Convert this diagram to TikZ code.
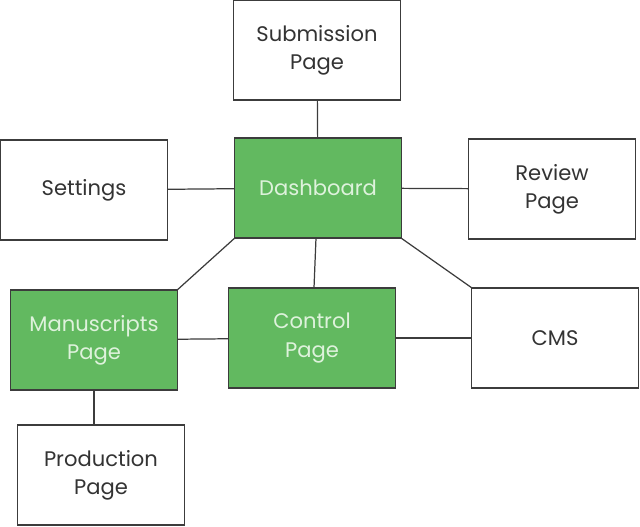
\documentclass[tikz,border=0pt]{standalone}
\usepackage{fontspec}
\setmainfont{Poppins}
\usepackage{xcolor}
\usetikzlibrary{positioning,shapes}
\definecolor{boxgreen}{RGB}{98,185,96}
\definecolor{lightgreen}{RGB}{222,242,220}
\definecolor{edgegray}{RGB}{60,60,60}

\begin{document}
\begin{tikzpicture}[x = 0.02cm, y = -0.02cm,
    page/.style = {draw = edgegray, line width = 0.7pt, minimum width = 3.33cm, minimum height = 2cm, align = center, font = \fontsize{12}{16}\selectfont, text = black!80},
    hub/.style = {page, fill = boxgreen, text = lightgreen},
    link/.style = {draw = edgegray, line width = 0.7pt}]
  \useasboundingbox (0,0) rectangle (640,527);
    \node[page] (sub) at (317,50) {Submission\\Page};
    \node[page] (set) at (84,190) {Settings};
    \node[hub] (dash) at (318,188) {Dashboard};
    \node[page] (rev) at (552,189) {Review\\Page};
    \node[hub] (man) at (94,340) {Manuscripts\\Page};
    \node[hub] (ctrl) at (312,338) {Control\\Page};
    \node[page] (cms) at (555,338) {CMS};
    \node[page] (prod) at (101,475) {Production\\Page};
    % Links
    \draw[link] (sub) -- (dash);
    \draw[link] (set) -- (dash);
    \draw[link] (dash) -- (rev);
    \draw[link] (dash.south west) -- (man.north east);
    \draw[link] (dash) -- (ctrl);
    \draw[link] (dash.south east) -- (cms.north west);
    \draw[link] (man) -- (ctrl);
    \draw[link] (ctrl) -- (cms);
    \draw[link] (man.south) -- (man.south |- prod.north);
\end{tikzpicture}
\end{document}
